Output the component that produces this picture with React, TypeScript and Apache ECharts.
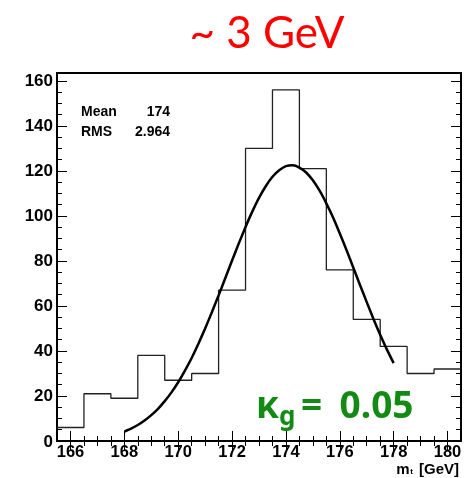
import React, { useEffect, useRef } from "react";
import * as echarts from "echarts";

// Histogram of reconstructed top mass (bin centres, 1 GeV bins)
const massBins = [166, 167, 168, 169, 170, 171, 172, 173, 174, 175, 176, 177, 178, 179, 180];
const binCounts = [6, 21, 19, 38, 27, 30, 67, 130, 156, 121, 76, 54, 42, 30, 32];

// Gaussian fit curve sampled over the fit range
const fitMass = [
  168, 168.25, 168.5, 168.75, 169, 169.25, 169.5, 169.75, 170, 170.25, 170.5, 170.75,
  171, 171.25, 171.5, 171.75, 172, 172.25, 172.5, 172.75, 173, 173.25, 173.5, 173.75,
  174, 174.25, 174.5, 174.75, 175, 175.25, 175.5, 175.75, 176, 176.25, 176.5, 176.75,
  177, 177.25, 177.5, 177.75, 178,
];
const fitCounts = [
  4.2, 5.5, 7.1, 9.1, 11.5, 14.3, 17.7, 21.6, 26.1, 31.3, 36.9, 43.2,
  50.0, 57.2, 64.7, 72.4, 80.2, 87.8, 95.1, 101.9, 108.0, 113.2, 117.4, 120.3,
  122.1, 122.5, 121.5, 119.3, 115.8, 111.2, 105.6, 99.3, 92.2, 84.8, 77.1, 69.3,
  61.7, 54.2, 47.2, 40.6, 34.6,
];

// Axis tick labels
const xTickLabels = [166, 168, 170, 172, 174, 176, 178, 180];
const yTickLabels = [0, 20, 40, 60, 80, 100, 120, 140, 160];

// Statistics box
const statNames = ["Mean", "RMS"];
const statValues = ["174", "2.964"];

const X_MIN = 165.5;
const X_MAX = 180.5;
const Y_MAX = 163.5;

const labelFont = "Liberation Sans, Arial, Helvetica, sans-serif";
const green = "#138a13";
const greenFont = "Noto Sans, Open Sans, sans-serif";

export default function App() {
  const ref = useRef<HTMLDivElement>(null);

  useEffect(() => {
    if (!ref.current) return;
    const chart = echarts.init(ref.current, null, { renderer: "svg" });

    // step outline: one point per left bin edge plus the closing right edge
    const half = 0.5;
    const histData: number[][] = massBins.map((c, i) => [c - half, binCounts[i]]);
    histData.push([massBins[massBins.length - 1] + half, binCounts[binCounts.length - 1]]);

    const fitData = fitMass.map((m, i) => [m, fitCounts[i]]);

    const xMinor: number[] = [];
    for (let v = 166; v <= 180.001; v += 0.5) xMinor.push(v);
    const yMinor: number[] = [];
    for (let v = 0; v <= 160; v += 5) yMinor.push(v);

    const tickStyle = { color: "#000", width: 1 };

    const mkX = (position: "bottom" | "top", values: number[], len: number, labels: boolean) => ({
      type: "value",
      position,
      min: X_MIN,
      max: X_MAX,
      axisLine: { show: false },
      splitLine: { show: false },
      axisTick: { show: true, inside: true, length: len, lineStyle: tickStyle, customValues: values },
      axisLabel: labels
        ? {
            show: true,
            customValues: xTickLabels,
            margin: 3,
            lineHeight: 14,
            color: "#000",
            fontFamily: labelFont,
            fontWeight: "bold",
            fontSize: 16.5,
          }
        : { show: false },
    });

    const mkY = (position: "left" | "right", values: number[], len: number, labels: boolean) => ({
      type: "value",
      position,
      min: 0,
      max: Y_MAX,
      axisLine: { show: false },
      splitLine: { show: false },
      axisTick: { show: true, inside: true, length: len, lineStyle: tickStyle, customValues: values },
      axisLabel: labels
        ? {
            show: true,
            customValues: yTickLabels,
            margin: 4,
            color: "#000",
            fontFamily: labelFont,
            fontWeight: "bold",
            fontSize: 17,
          }
        : { show: false },
    });

    const plainText = (txt: string, x: number, y: number, size: number, align: string) => ({
      type: "text",
      x,
      y,
      style: {
        text: txt,
        fill: "#000",
        fontFamily: labelFont,
        fontWeight: "bold",
        fontSize: size,
        align,
        verticalAlign: "middle",
      },
    });

    const greenText = (txt: string, x: number, y: number, size: number, align: string) => ({
      type: "text",
      x,
      y,
      style: {
        text: txt,
        fill: green,
        fontFamily: greenFont,
        fontWeight: "bold",
        fontSize: size,
        align,
        verticalAlign: "middle",
      },
    });

    chart.setOption({
      animation: false,
      grid: {
        left: 57,
        right: 9,
        top: 73,
        bottom: 37,
        show: true,
        borderColor: "#000",
        borderWidth: 2,
        backgroundColor: "transparent",
      },
      xAxis: [
        mkX("bottom", xTickLabels, 10, true),
        mkX("bottom", xMinor, 5, false),
        mkX("top", xTickLabels, 10, false),
        mkX("top", xMinor, 5, false),
      ],
      yAxis: [
        mkY("left", yTickLabels, 10, true),
        mkY("left", yMinor, 5, false),
        mkY("right", yTickLabels, 10, false),
        mkY("right", yMinor, 5, false),
      ],
      series: [
        {
          type: "line",
          step: "end",
          data: histData,
          xAxisIndex: 0,
          yAxisIndex: 0,
          showSymbol: false,
          lineStyle: { color: "#222", width: 1.3 },
          z: 2,
        },
        {
          type: "line",
          smooth: 0.2,
          data: fitData,
          xAxisIndex: 0,
          yAxisIndex: 0,
          showSymbol: false,
          lineStyle: { color: "#000", width: 2.5 },
          z: 3,
        },
      ],
      graphic: [
        {
          type: "text",
          x: 267,
          y: 31,
          style: {
            text: "~ 3 GeV",
            fill: "#ff0000",
            fontFamily: "Lato, Open Sans, sans-serif",
            fontSize: 44,
            align: "center",
            verticalAlign: "middle",
          },
        },
        // statistics box
        plainText(statNames[0], 81, 111, 14, "left"),
        plainText(statValues[0], 170, 111, 14, "right"),
        plainText(statNames[1], 81, 130.5, 14, "left"),
        plainText(statValues[1], 170, 130.5, 14, "right"),
        // coupling label
        greenText("κ", 256, 403, 37, "left"),
        greenText("g", 279, 415, 26, "left"),
        greenText("=", 301, 403, 37, "left"),
        greenText("0.05", 413.5, 403, 37, "right"),
        // x-axis title: m_t [GeV]
        plainText("[GeV]", 459, 468.5, 15, "right"),
        plainText("t", 413, 471, 8, "right"),
        plainText("m", 409.5, 468.5, 15, "right"),
      ],
    });

    return () => chart.dispose();
  }, []);

  return (
    <div
      ref={ref}
      style={{ position: "fixed", left: 0, top: 0, width: 470, height: 478 }}
    />
  );
}
